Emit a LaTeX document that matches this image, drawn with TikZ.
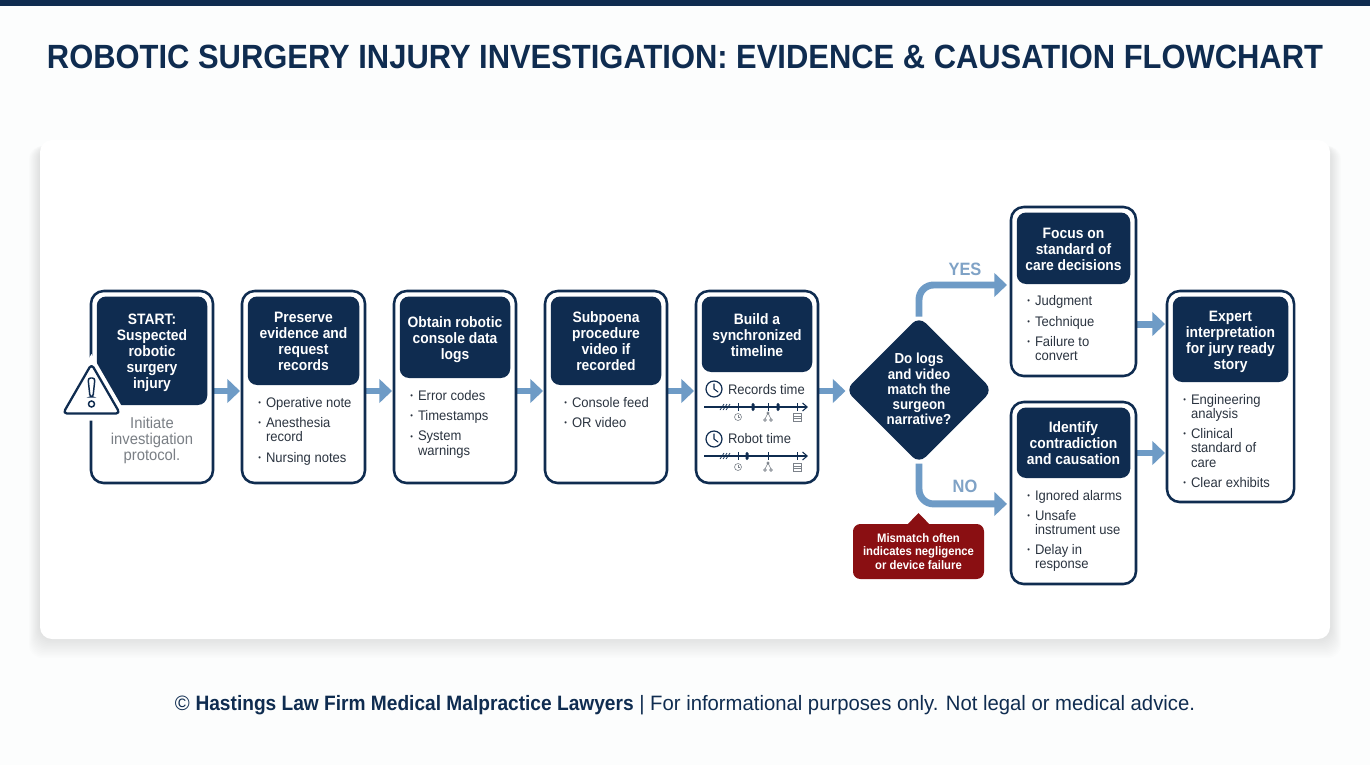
\documentclass[tikz,border=0pt]{standalone}
\usepackage{fontspec}
\setmainfont[FakeStretch=.94,BoldFeatures={FakeStretch=.92}]{Liberation Sans}
\newfontfamily\footfam[FakeStretch=.975,BoldFeatures={FakeStretch=.92}]{Liberation Sans}
\usetikzlibrary{arrows.meta,shapes.geometric,calc}
\definecolor{navy}{HTML}{0F2C50}
\definecolor{flowblue}{HTML}{6E9BC6}
\definecolor{labblue}{HTML}{7FA2C6}
\definecolor{bodyink}{HTML}{2B3440}
\definecolor{softgray}{HTML}{7A7F85}
\definecolor{iconink}{HTML}{7C828A}
\definecolor{alarm}{HTML}{8A0F12}
\definecolor{pagebg}{HTML}{FCFDFD}
\pgfdeclarelayer{bgl}\pgfdeclarelayer{backl}
\pgfsetlayers{bgl,backl,main}
\tikzset{
 card/.style={draw=navy,line width=1.9pt,fill=white,rounded corners=9.5pt,inner sep=0,outer sep=0},
 headbox/.style={fill=navy,text=white,rounded corners=7pt,inner sep=0,outer sep=0,align=center,font=\fontsize{11.3}{12}\selectfont\bfseries},
 bodytxt/.style={anchor=north west,inner sep=0,outer sep=0,align=left,text=bodyink,font=\fontsize{10.4}{11}\selectfont},
 flow/.style={draw=flowblue,line width=5.2pt,-{Triangle[length=9.5pt,width=17.5pt]}},
 branch/.style={flow,rounded corners=11pt},
 branchlab/.style={inner sep=0,text=labblue,font=\fontsize{13.4}{14}\selectfont\bfseries},
 axis/.style={draw=navy,line width=.8pt,-{Straight Barb[length=3.5pt,width=6pt]}},
 tinyicon/.style={draw=iconink,line width=.45pt},
}
% name, x1,y1,x2,y2 (px), header y2, header text
\newcommand\stepcard[7]{%
 \node[card,minimum width={(#4-#2)*0.75pt},minimum height={(#5-#3)*0.75pt}] (b#1) at ({(#2+#4)/2},{(#3+#5)/2}) {};
 \node[headbox,minimum width={(#4-#2-11.5)*0.75pt},minimum height={(#6-#3-5.5)*0.75pt}] (h#1) at ({(#2+#4)/2},{(#3+5.5+#6)/2}) {\raisebox{-4.7pt}[0pt][0pt]{\begin{tabular}{@{}c@{}}#7\end{tabular}}};
}
\newcommand\bitem[4]{\node[bodytxt] (#1) at (#2,#3+2) {\llap{\raisebox{.9pt}{\fontsize{6}{6}\selectfont\textbullet}\kern3.8pt}#4};}
\newcommand\clockicon[2]{%
 \draw[navy,line width=.9pt] (#1,#2) circle (8);
 \draw[navy,line width=.8pt,line cap=round] (#1,#2-5) -- (#1,#2) -- (#1+4,#2+3);
}
\newcommand\timeaxis[2]{% x=704..808, y
 \draw[axis] (704,#2) -- (808,#2);
 \foreach \s in {0,3,6}{\draw[navy,line width=.5pt] (720+\s,#2+3) -- (724+\s,#2-3);}
 \foreach \t in {#1}{\draw[navy,line width=.5pt] (\t,#2-4) -- (\t,#2+4);}
}
\newcommand\tinyicons[1]{%
 \draw[tinyicon] (738,#1) circle (3.5);
 \draw[tinyicon] (738,#1-2) -- (738,#1) -- (739.5,#1);
 \draw[tinyicon] (768,#1-4) -- (765,#1+2) (768,#1-4) -- (771,#1+2) (765,#1+3) circle (1.4) (771,#1+3) circle (1.4) (768,#1-4) circle (1.2);
 \draw[tinyicon] (793,#1-4) rectangle (801,#1+4);
 \draw[tinyicon] (793,#1-1) -- (801,#1-1) (793,#1+1.5) -- (801,#1+1.5);
}
\begin{document}
\begin{tikzpicture}[x=0.75pt,y=-0.75pt]
\useasboundingbox (0,0) rectangle (1370,765);
\begin{pgfonlayer}{bgl}
 \fill[pagebg] (0,0) rectangle (1370,765);
 \fill[navy] (0,0) rectangle (1370,5.5);
 \foreach \i in {1,...,14}{\fill[black,opacity=.009,rounded corners=10pt] (40-\i*.8,146) rectangle (1330+\i*.8,637+\i*1.5);}
 \fill[white,rounded corners=9pt] (40,140) rectangle (1330,639);
\end{pgfonlayer}

\node[inner sep=0,text=navy,font=\fontsize{25.2}{30}\selectfont\bfseries] (title) at (685,57) {ROBOTIC SURGERY INJURY INVESTIGATION: EVIDENCE \& CAUSATION FLOWCHART};

\stepcard{1}{91}{291}{213}{483}{405}{START:\\Suspected\\robotic\\surgery\\injury}
\stepcard{2}{242}{291}{365}{483}{385}{Preserve\\evidence and\\request\\records}
\stepcard{3}{394}{291}{516}{483}{378}{Obtain robotic\\console data\\logs}
\stepcard{4}{545}{291}{667}{483}{385}{Subpoena\\procedure\\video if\\recorded}
\stepcard{5}{696}{291}{818}{483}{372}{Build a\\synchronized\\timeline}
\stepcard{6}{1011}{207}{1136}{376}{284}{Focus on\\standard of\\care decisions}
\stepcard{7}{1011}{402}{1136}{584}{478}{Identify\\contradiction\\and causation}
\stepcard{8}{1167}{291}{1294}{502}{382}{Expert\\interpretation\\for jury ready\\story}

% warning triangle
\coordinate (wa) at (91.5,364);
\coordinate (wb) at (63,413.5);
\coordinate (wc) at (120,413.5);
\fill[white] (91.5,354) -- (53,420.5) -- (130,420.5) -- cycle;
\draw[navy,line width=1.7pt,fill=white,line join=round,rounded corners=3pt] (wa) -- (wb) -- (wc) -- cycle;
\draw[navy,line width=1.1pt,fill=white,rounded corners=2pt] (88,378) -- (95,378) -- (93,397) -- (90,397) -- cycle;
\draw[navy,line width=1.1pt,fill=white] (91.5,404) circle (3);

\node[inner sep=0,align=center,text=softgray,font=\fontsize{11.8}{12}\selectfont] (intro) at (152,440.5) {Initiate\\investigation\\protocol.};

\bitem{i21}{266}{395}{Operative note}
\bitem{i22}{266}{415}{Anesthesia\\record}
\bitem{i23}{266}{450}{Nursing notes}
\bitem{i31}{418}{388}{Error codes}
\bitem{i32}{418}{408}{Timestamps}
\bitem{i33}{418}{429}{System\\warnings}
\bitem{i41}{572}{395}{Console feed}
\bitem{i42}{572}{415}{OR video}
\bitem{i61}{1035}{293}{Judgment}
\bitem{i62}{1035}{314}{Technique}
\bitem{i63}{1035}{334}{Failure to\\convert}
\bitem{i71}{1035}{488}{Ignored alarms}
\bitem{i72}{1035}{508}{Unsafe\\instrument use}
\bitem{i73}{1035}{542}{Delay in\\response}
\bitem{i81}{1191}{392}{Engineering\\analysis}
\bitem{i82}{1191}{426}{Clinical\\standard of\\care}
\bitem{i83}{1191}{475}{Clear exhibits}

% timeline card
\clockicon{714}{389}
\node[bodytxt,anchor=west] (rt) at (728,390) {Records time};
\timeaxis{738,768,797}{407}
\fill[navy,rounded corners=1pt] (751.5,403) rectangle (754.5,411) (776.5,403) rectangle (779.5,411);
\tinyicons{417}
\clockicon{714}{439}
\node[bodytxt,anchor=west] (bt) at (728,439) {Robot time};
\timeaxis{738,768,797}{456}
\fill[navy,rounded corners=1pt] (745.5,452) rectangle (748.5,460);
\tinyicons{467}

% decision
\node[diamond,aspect=1,fill=navy,rounded corners=7pt,minimum width={147*0.75pt},minimum height={147*0.75pt},inner sep=0,outer sep=0] (d) at (919,390) {};
\node[inner sep=0,align=center,text=white,font=\fontsize{10.9}{11.4}\selectfont\bfseries] (dt) at (919,389) {Do logs\\and video\\match the\\surgeon\\narrative?};

% callout
\node[fill=alarm,rounded corners=5.5pt,minimum width={131*0.75pt},minimum height={55*0.75pt},inner sep=0,outer sep=0,align=center,text=white,font=\fontsize{9.2}{10}\selectfont\bfseries] (alert) at (918.5,551.5) {Mismatch often\\indicates negligence\\or device failure};
\fill[alarm] ([xshift=-8pt]alert.north) -- ([yshift=8.2pt]alert.north) -- ([xshift=8pt]alert.north) -- cycle;

\node[branchlab] (yes) at (965,269.5) {YES};
\node[branchlab] (no) at (965,486) {NO};

\node[inner sep=0,text=navy,font=\footfam\fontsize{15.6}{18}\selectfont] (foot) at (685,705) {©\ \textbf{Hastings Law Firm Medical Malpractice Lawyers} | For informational purposes only. Not legal or medical advice.};

% connectors
\coordinate (e1) at ([yshift=-3pt]b1.east);
\coordinate (e2) at ([yshift=-3pt]b2.east);
\coordinate (e3) at ([yshift=-3pt]b3.east);
\coordinate (e4) at ([yshift=-3pt]b4.east);
\coordinate (e5) at ([yshift=-3pt]b5.east);
\coordinate (e6) at ([yshift=-24.4pt]b6.east);
\coordinate (e7) at ([yshift=30pt]b7.east);
\coordinate (yt) at ([yshift=4.9pt]b6.west);
\coordinate (nt) at ([yshift=-8.2pt]b7.west);
\begin{pgfonlayer}{backl}
 \draw[flow,shorten >=1.5pt] (e1) -- (e1 -| b2.west);
 \draw[flow,shorten >=1.5pt] (e2) -- (e2 -| b3.west);
 \draw[flow,shorten >=1.5pt] (e3) -- (e3 -| b4.west);
 \draw[flow,shorten >=1.5pt] (e4) -- (e4 -| b5.west);
 \draw[flow,shorten >=0pt] (e5) -- (e5 -| d.west);
 \draw[flow,shorten >=1.5pt] (e6) -- (e6 -| b8.west);
 \draw[flow,shorten >=1.5pt] (e7) -- (e7 -| b8.west);
 \draw[branch,shorten >=3pt] (d.north) |- (yt);
 \draw[branch,shorten >=3pt] (d.south) |- (nt);
\end{pgfonlayer}
\end{tikzpicture}
\end{document}
